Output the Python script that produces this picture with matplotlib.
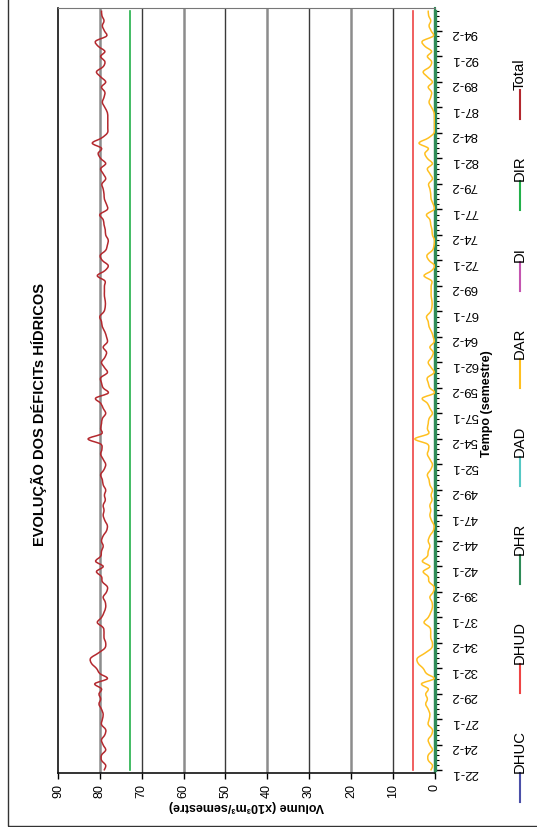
import matplotlib.pyplot as plt
from matplotlib.lines import Line2D
from matplotlib.patches import Rectangle, PathPatch
from matplotlib.path import Path

# semesters 22-1 .. 96-2
semestres = [f"{a}-{s}" for a in range(22, 97) for s in (1, 2)]
rotulos_tempo = ["22-1", "24-2", "27-1", "29-2", "32-1", "34-2", "37-1", "39-2",
                 "42-1", "44-2", "47-1", "49-2", "52-1", "54-2", "57-1", "59-2",
                 "62-1", "64-2", "67-1", "69-2", "72-1", "74-2", "77-1", "79-2",
                 "82-1", "84-2", "87-1", "89-2", "92-1", "94-2"]
volume_ticks = [0, 10, 20, 30, 40, 50, 60, 70, 80, 90]

# constant deficits (x10^3 m3/semestre)
dhuc = 0.0
dhud = 5.2
dhr = 0.0
dad = 0.0
di = 0.0
dir_ = 72.8

dar = [0.9, 0.5, 1.5, 1.5, 0.5, 1.1, 1.5, 0.7, 0.5, 1.5,
       1.3, 1.1, 1.5, 2.1, 1.7, 2.1, 1.5, 3.1, 0.1, 1.9,
       2.7, 3.9, 4.1, 2.3, 0.7, 0.5, 0.9, 0.9, 1.1, 2.5,
       1.5, 0.9, 0.5, 0.6, 1.1, 0.3, 0.1, 1.3, 1.5, 2.7,
       1.1, 2.9, 1.7, 1.5, 1.1, 1.5, 1.1, 0.3, 0.1, 0.7,
       1.1, 0.9, 1.1, 0.6, 0.8, 0.5, 1.1, 1.3, 1.7, 0.9,
       0.5, 1.1, 1.7, 1.4, 1.7, 4.7, 1.5, 1.7, 1.5, 1.3,
       0.5, 1.1, 1.7, 2.9, 0.0, 1.1, 1.5, 1.7, 0.1, 0.8,
       1.5, 0.7, 0.3, 1.1, 0.1, 0.3, 0.7, 1.3, 1.5, 1.9,
       0.9, 0.6, 0.6, 0.8, 0.8, 0.8, 0.7, 2.5, 0.7, 0.0,
       1.3, 1.8, 0.5, 0.1, 0.0, 0.5, 0.6, 0.9, 1.1, 1.9,
       0.1, 0.3, 0.8, 0.9, 1.1, 1.4, 0.5, 1.1, 1.7, 0.5,
       1.7, 2.3, 1.5, 3.7, 1.5, 0.1, 0.0, 0.0, 0.0, 0.1,
       0.7, 1.3, 0.9, 0.7, 1.5, 0.5, 1.7, 2.7, 1.1, 0.7,
       1.7, 0.7, 2.3, 2.9, 0.3, 0.8, 1.3, 0.9, 1.4, 1.5]

total = [79.0, 78.6, 79.6, 79.6, 78.6, 79.2, 79.6, 78.8, 78.6, 79.6,
         79.4, 79.2, 79.6, 80.2, 79.8, 80.2, 79.6, 81.2, 78.2, 80.0,
         80.8, 82.0, 82.2, 80.4, 78.8, 78.6, 79.0, 79.0, 79.2, 80.6,
         79.6, 79.0, 78.6, 78.7, 79.2, 78.4, 78.2, 79.4, 79.6, 80.8,
         79.2, 81.0, 79.8, 79.6, 79.2, 79.6, 79.2, 78.4, 78.2, 78.8,
         79.2, 79.0, 79.2, 78.7, 78.9, 78.6, 79.2, 79.4, 79.8, 79.0,
         78.6, 79.2, 79.8, 79.5, 79.8, 82.8, 79.6, 79.8, 79.6, 79.4,
         78.6, 79.2, 79.8, 81.0, 78.0, 79.2, 79.6, 79.8, 78.2, 78.9,
         79.6, 78.8, 78.4, 79.2, 78.2, 78.4, 78.8, 79.4, 79.6, 80.0,
         79.0, 78.7, 78.7, 78.9, 78.9, 78.9, 78.8, 80.6, 78.8, 78.0,
         79.4, 79.9, 78.6, 78.2, 78.0, 78.6, 78.7, 79.0, 79.2, 80.0,
         78.2, 78.4, 78.9, 79.0, 79.2, 79.5, 78.6, 79.2, 79.8, 78.6,
         79.8, 80.4, 79.6, 81.8, 79.6, 78.2, 78.1, 78.1, 78.1, 78.2,
         78.8, 79.4, 79.0, 78.8, 79.6, 78.6, 79.8, 80.8, 79.2, 78.8,
         79.8, 78.8, 80.4, 81.0, 78.4, 78.9, 79.4, 79.0, 79.5, 79.6]

nomes = ["DHUC", "DHUD", "DHR", "DAD", "DAR", "DI", "DIR", "Total"]
cores = ["#4b50a8", "#ee4444", "#2e8b57", "#55c8c4", "#ffc020",
         "#c455b0", "#22b04a", "#b3282e"]


def linha_suave(ax, valores, pos, cor, lw, z):
    # smoothed line through the points (Catmull-Rom as Bezier), like Excel
    pts = list(zip(valores, pos))
    verts = [pts[0]]
    codes = [Path.MOVETO]
    for k in range(len(pts) - 1):
        p0 = pts[max(k - 1, 0)]
        p1 = pts[k]
        p2 = pts[k + 1]
        p3 = pts[min(k + 2, len(pts) - 1)]
        c1 = (p1[0] + (p2[0] - p0[0]) / 6, p1[1] + (p2[1] - p0[1]) / 6)
        c2 = (p2[0] - (p3[0] - p1[0]) / 6, p2[1] - (p3[1] - p1[1]) / 6)
        verts += [c1, c2, p2]
        codes += [Path.CURVE4] * 3
    ax.add_patch(PathPatch(Path(verts, codes), fill=False, ec=cor, lw=lw,
                           zorder=z))


plt.rcParams['font.family'] = ['Liberation Sans', 'DejaVu Sans']

W, H = 537, 828
fig = plt.figure(figsize=(W / 100, H / 100), dpi=100)
ax = fig.add_axes([58 / W, 54 / H, (434.5 - 58) / W, (774 - 9) / H])

idx = list(range(len(semestres)))
n = len(idx)

# gridlines (alternating grey / dark as in the original)
for v in volume_ticks[1:-1]:
    if v % 20 == 0:
        ax.axvline(v, color="#8c8c8c", lw=1.8, zorder=1)
    else:
        ax.axvline(v, color="#3a3a3a", lw=1.0, zorder=1)

ax.plot([dhuc] * n, idx, color=cores[0], lw=1.2, zorder=2)
ax.plot([dad] * n, idx, color=cores[3], lw=1.2, zorder=2)
ax.plot([di] * n, idx, color=cores[5], lw=1.2, zorder=2)
ax.plot([dhr] * n, idx, color=cores[2], lw=2.4, zorder=3, clip_on=False)
ax.plot([dhud] * n, idx, color=cores[1], lw=1.2, zorder=3)
linha_suave(ax, dar, idx, cores[4], 1.1, 4)
ax.plot([dir_] * n, idx, color=cores[6], lw=1.2, zorder=3)
linha_suave(ax, total, idx, cores[7], 1.1, 4)

ax.set_xlim(90, 0)
ax.set_ylim(-0.5, n - 0.5)

ax.set_xticks(volume_ticks)
ax.set_xticklabels([str(v) for v in volume_ticks], rotation=90, fontsize=9)
ax.tick_params(axis='x', direction='out', length=4, width=1, pad=3)

ax.yaxis.tick_right()
ax.set_yticks([semestres.index(r) for r in rotulos_tempo])
ax.set_yticklabels(rotulos_tempo, rotation=180, fontsize=9.5)
ax.set_yticks(idx, minor=True)
ax.tick_params(axis='y', which='major', direction='out', length=5, width=1, pad=7)
ax.tick_params(axis='y', which='minor', direction='out', length=3, width=0.8)

ax.set_xlabel("Volume (x10³m³/semestre)", rotation=180, fontsize=9,
              fontweight='bold', labelpad=2)

for s in ['left', 'bottom']:
    ax.spines[s].set_color('#111111')
    ax.spines[s].set_linewidth(1.2)
ax.spines['top'].set_color('#777777')
ax.spines['right'].set_color(cores[2])
ax.spines['right'].set_linewidth(1.5)

fig.text(487 / W, 1 - 403.5 / H, "Tempo (semestre)", rotation=90, ha='center',
         va='center', fontsize=9, fontweight='bold')
fig.text(39 / W, 1 - 415 / H, "EVOLUÇÃO DOS DÉFICITs HÍDRICOS", rotation=90,
         ha='center', va='center', fontsize=10.5, fontweight='bold')

# legend laid out along the right edge
renderer = fig.canvas.get_renderer()
xl = 520
y = 25
for nome, cor in zip(nomes, cores):
    fig.add_artist(Line2D([xl / W, xl / W], [y / H, (y + 29) / H],
                          transform=fig.transFigure, color=cor, lw=1.5))
    t = fig.text(xl / W, (y + 30) / H, nome, rotation=90, ha='center',
                 va='bottom', fontsize=10.7)
    bb = t.get_window_extent(renderer)
    y = bb.y1 + 36

fig.add_artist(Rectangle((8 / W, 1 / H), 1, 1, fill=False,
                         transform=fig.transFigure, ec='#333333', lw=1))

fig.savefig("out.png", dpi=100)
